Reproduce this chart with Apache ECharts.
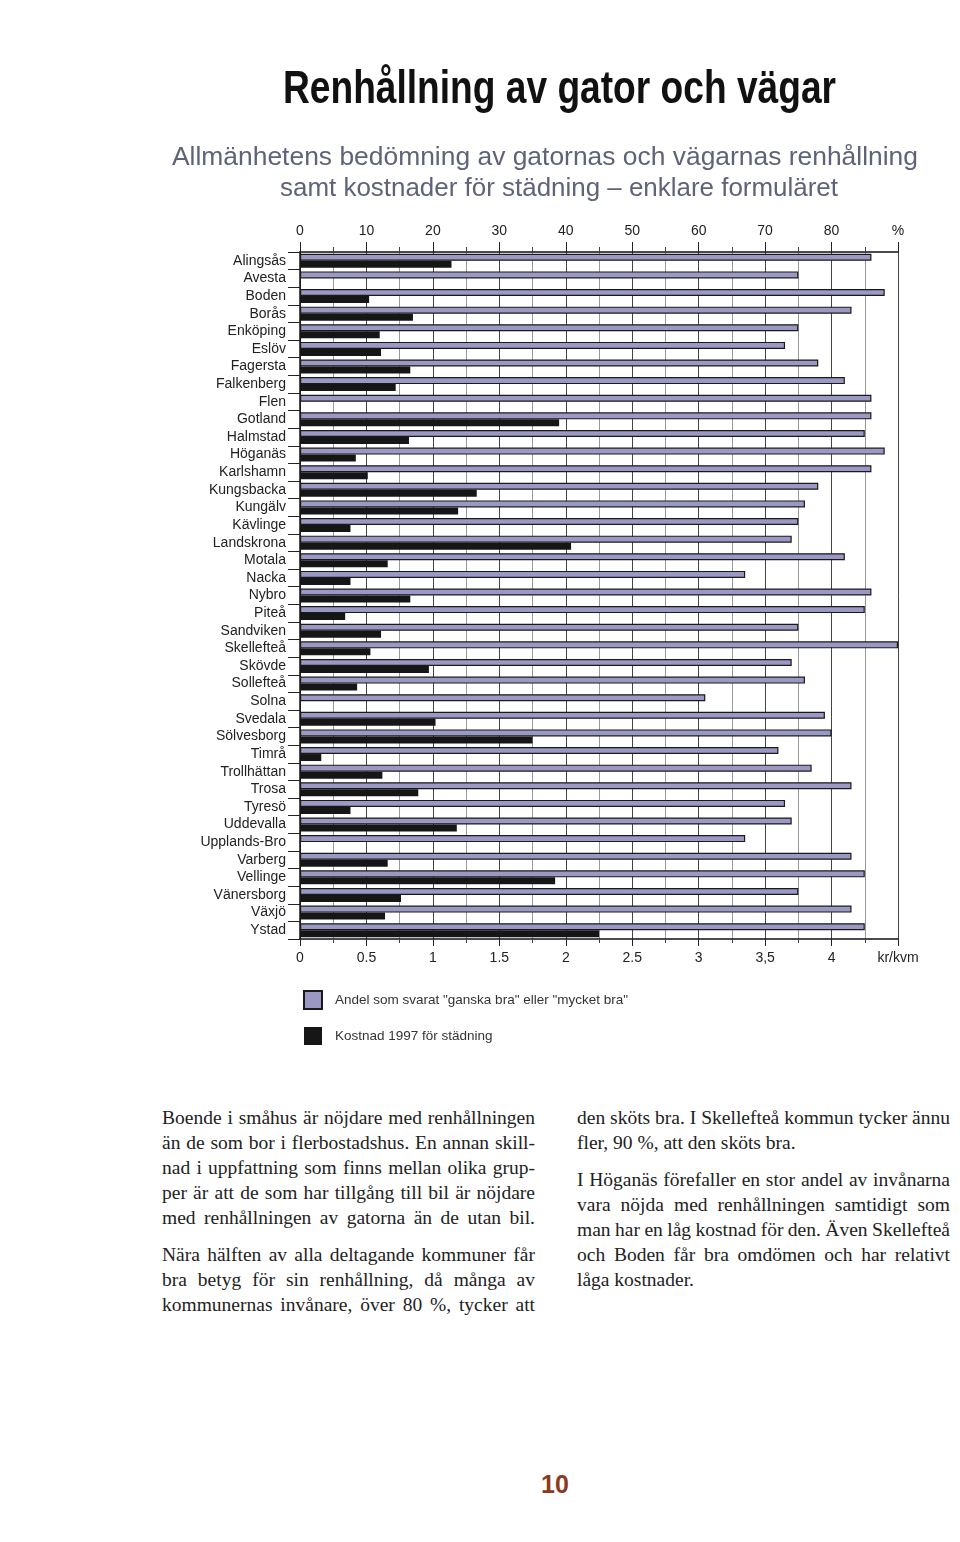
<!DOCTYPE html>
<html>
<head>
<meta charset="utf-8">
<script src="https://cdn.jsdelivr.net/npm/echarts@6/dist/echarts.min.js"></script>
<style>
  html, body { margin:0; padding:0; background:#fff; }
  body { width:960px; height:1542px; position:relative; overflow:hidden; }
  #chart { position:absolute; left:0; top:0; width:960px; height:1060px; }
  .fit { position:absolute; white-space:nowrap; transform-origin: 0 0; }
  #title { font-family:"Liberation Sans Narrow","Liberation Sans",Arial,sans-serif; font-weight:bold; font-size:46px; color:#111; }
  .sub { font-family:"Liberation Sans Narrow","Liberation Sans",Arial,sans-serif; font-size:26px; color:#5f6379; }
  .col { position:absolute; width:373px; font-family:"Liberation Serif","DejaVu Serif",serif; font-size:19.5px; color:#222; line-height:25px; }
  .col div { white-space:nowrap; height:25px; }
  .col .gap { height:12px; }
  #pnum { position:absolute; left:0; width:1110px; top:1470px; text-align:center; font-family:"Liberation Sans",Arial,sans-serif; font-weight:bold; font-size:25px; color:#8a3b1e; }
</style>
</head>
<body>
<div id="chart"></div>
<div id="title" class="fit" data-x="283" data-y="60" data-w="553">Renhållning av gator och vägar</div>
<div class="sub fit" data-x="172" data-y="141" data-w="746">Allmänhetens bedömning av gatornas och vägarnas renhållning</div>
<div class="sub fit" data-x="280" data-y="172" data-w="558">samt kostnader för städning – enklare formuläret</div>

<div class="col" style="left:162px; top:1105px;">
  <div class="j">Boende i småhus är nöjdare med renhållningen</div>
  <div class="j">än de som bor i flerbostadshus. En annan skill-</div>
  <div class="j">nad i uppfattning som finns mellan olika grup-</div>
  <div class="j">per är att de som har tillgång till bil är nöjdare</div>
  <div class="j">med renhållningen av gatorna än de utan bil.</div>
  <div class="gap"></div>
  <div class="j">Nära hälften av alla deltagande kommuner får</div>
  <div class="j">bra betyg för sin renhållning, då många av</div>
  <div class="j">kommunernas invånare, över 80 %, tycker att</div>
</div>
<div class="col" style="left:577px; top:1105px;">
  <div class="j">den sköts bra. I Skellefteå kommun tycker ännu</div>
  <div>fler, 90 %, att den sköts bra.</div>
  <div class="gap"></div>
  <div class="j">I Höganäs förefaller en stor andel av invånarna</div>
  <div class="j">vara nöjda med renhållningen samtidigt som</div>
  <div class="j">man har en låg kostnad för den. Även Skellefteå</div>
  <div class="j">och Boden får bra omdömen och har relativt</div>
  <div>låga kostnader.</div>
</div>
<div id="pnum">10</div>

<script>
const categories = ['Alingsås','Avesta','Boden','Borås','Enköping','Eslöv','Fagersta','Falkenberg','Flen','Gotland','Halmstad','Höganäs','Karlshamn','Kungsbacka','Kungälv','Kävlinge','Landskrona','Motala','Nacka','Nybro','Piteå','Sandviken','Skellefteå','Skövde','Sollefteå','Solna','Svedala','Sölvesborg','Timrå','Trollhättan','Trosa','Tyresö','Uddevalla','Upplands-Bro','Varberg','Vellinge','Vänersborg','Växjö','Ystad'];
const andelBra = [86,75,88,83,75,73,78,82,86,86,85,88,86,78,76,75,74,82,67,86,85,75,90,74,76,61,79,80,72,77,83,73,74,67,83,85,75,83,85];
const kostnad = [1.14,null,0.52,0.85,0.60,0.61,0.83,0.72,null,1.95,0.82,0.42,0.51,1.33,1.19,0.38,2.04,0.66,0.38,0.83,0.34,0.61,0.53,0.97,0.43,null,1.02,1.75,0.16,0.62,0.89,0.38,1.18,null,0.66,1.92,0.76,0.64,2.25];
const topTickLabels = {0:'0',10:'10',20:'20',30:'30',40:'40',50:'50',60:'60',70:'70',80:'80',90:'%'};
const bottomTickLabels = {'0':'0','0.5':'0.5','1':'1','1.5':'1.5','2':'2','2.5':'2.5','3':'3','3.5':'3,5','4':'4','4.5':'kr/kvm'};
const seriesNames = ['Andel som svarat "ganska bra" eller "mycket bra"','Kostnad 1997 för städning'];

// fit heading lines to widths
document.querySelectorAll('.fit').forEach(el => {
  const w = el.getBoundingClientRect().width;
  const tw = +el.dataset.w;
  el.style.left = el.dataset.x + 'px';
  el.style.top = el.dataset.y + 'px';
  el.style.transform = 'scaleX(' + (tw / w) + ')';
});
// justify body lines by word spacing (only compress/expand moderately)
document.querySelectorAll('.col .j').forEach(el => {
  const span = document.createElement('span');
  span.textContent = el.textContent;
  el.textContent = '';
  el.appendChild(span);
  const w = span.getBoundingClientRect().width;
  const n = (span.textContent.match(/ /g) || []).length;
  if (n > 0) span.style.wordSpacing = ((373 - w) / n) + 'px';
});

const chart = echarts.init(document.getElementById('chart'), null, {renderer:'canvas'});
const axisFont = {fontFamily:'"Liberation Sans", Arial, sans-serif', fontSize:14, color:'#222'};
chart.setOption({
  animation:false,
  backgroundColor:'#fff',
  grid:{left:300, right:62, top:252, height:687, containLabel:false},
  legend:{
    orient:'vertical', left:298, top:985, itemWidth:18, itemHeight:18, itemGap:17,
    icon:'rect',
    textStyle:{fontFamily:'"Liberation Sans", Arial, sans-serif', fontSize:13.5, color:'#333', padding:[0,0,0,8]},
    data:seriesNames
  },
  xAxis:[
    {type:'value', position:'top', min:0, max:90, interval:10,
     axisLine:{show:true, lineStyle:{color:'#111', width:1.5}},
     axisTick:{show:true, length:10, lineStyle:{color:'#222'}},
     minorTick:{show:true, splitNumber:2, length:5, lineStyle:{color:'#444'}},
     axisLabel:{...axisFont, margin:14, formatter:v => topTickLabels[v] !== undefined ? topTickLabels[v] : ''},
     splitLine:{show:true, lineStyle:{color:'#444', width:1}},
     minorSplitLine:{show:true, lineStyle:{color:'#999', width:1}}
    },
    {type:'value', position:'bottom', min:0, max:4.5, interval:0.5,
     axisLine:{show:true, lineStyle:{color:'#111', width:1.5}},
     axisTick:{show:true, length:7, lineStyle:{color:'#222'}},
     minorTick:{show:true, splitNumber:2, length:4, lineStyle:{color:'#444'}},
     axisLabel:{...axisFont, margin:12, formatter:v => { const k = String(+v.toFixed(2)); return bottomTickLabels[k] !== undefined ? bottomTickLabels[k] : ''; }},
     splitLine:{show:false}
    }
  ],
  yAxis:{type:'category', data:categories, inverse:true,
    axisLine:{show:true, lineStyle:{color:'#111', width:1.5}},
    axisTick:{show:true, length:12, interval:0, lineStyle:{color:'#222'}},
    axisLabel:{fontFamily:'"Liberation Sans", Arial, sans-serif', fontSize:14, color:'#222', margin:14, interval:0, padding:[4,0,0,0]}
  },
  series:[
    {name:seriesNames[0], type:'bar', xAxisIndex:0, data:andelBra, barWidth:7, barGap:'0%',
     itemStyle:{color:'#9b98c4', borderColor:'#1a1a1a', borderWidth:1.2}},
    {name:seriesNames[1], type:'bar', xAxisIndex:1, data:kostnad, barWidth:7, barGap:'0%',
     itemStyle:{color:'#161616'}}
  ]
});
</script>
</body>
</html>
